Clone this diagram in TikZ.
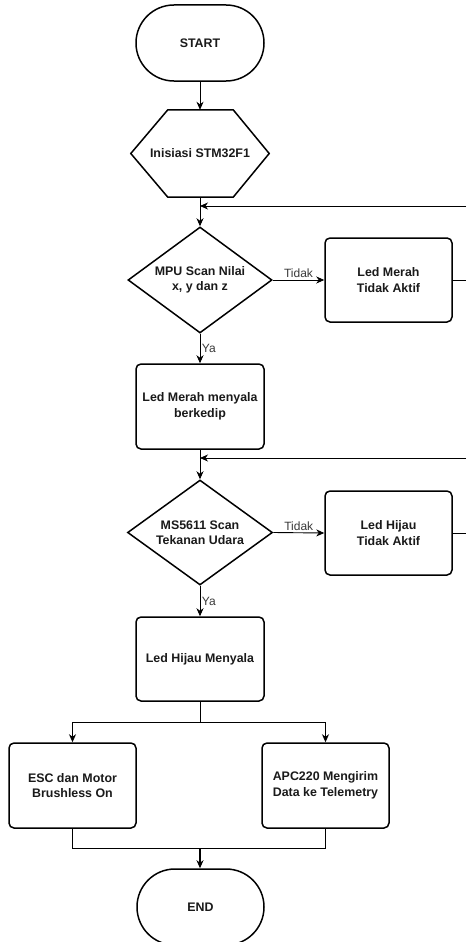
\documentclass[tikz,border=0pt]{standalone}
\usepackage{fontspec}
\setmainfont{Liberation Sans}
\usetikzlibrary{shapes.geometric,arrows.meta,calc}
\definecolor{txt}{HTML}{1A1A1A}
\definecolor{lbltxt}{HTML}{3A3A3A}
\begin{document}
\begin{tikzpicture}[x=1pt,y=-1pt,
  nodefont/.style={font=\fontsize{12.4}{15.5}\selectfont\bfseries, text=txt},
  box/.style={draw, line width=1.5pt, rounded corners=5pt, minimum width=127pt, minimum height=84pt, align=center, nodefont, inner sep=2pt},
  term/.style={draw, line width=1.5pt, rounded corners=37.9pt, minimum width=128pt, minimum height=76pt, nodefont, inner sep=2pt},
  dec/.style={diamond, draw, line width=1.5pt, minimum width=144pt, minimum height=106pt, shape aspect=1.36, inner sep=0pt, align=center, nodefont},
  conn/.style={line width=0.9pt, -{Stealth[length=8pt,width=7pt,inset=2.5pt]}},
  wire/.style={line width=0.9pt},
  lbl/.style={font=\fontsize{12}{14}\selectfont, text=lbltxt}
]
\fill[white] (0,0) rectangle (466,942);
\useasboundingbox (0,0) rectangle (466,942);

% nodes
\node[term] (start) at (200,43) {START};
\node[minimum width=138pt, minimum height=87pt, inner sep=0pt, nodefont] (init) at (200,153.5) {Inisiasi STM32F1};
\draw[line width=1.5pt, line join=miter] (init.west) -- ($(init.north west)+(37,0)$) -- ($(init.north east)+(-36,0)$) -- (init.east) -- ($(init.south east)+(-36,0)$) -- ($(init.south west)+(37,0)$) -- cycle;
\node[dec] (mpu) at (200,280) {MPU Scan Nilai\\x, y dan z};
\node[box] (ltm) at (388.5,280) {Led Merah\\Tidak Aktif};
\node[box, minimum width=128pt, minimum height=85pt] (lmm) at (200,406.5) {Led Merah menyala\\berkedip};
\node[dec, minimum width=145pt, minimum height=105pt] (ms) at (200,532.5) {MS5611 Scan\\Tekanan Udara};
\node[box] (lht) at (388.5,533) {Led Hijau\\Tidak Aktif};
\node[box, minimum width=128pt] (lhm) at (200,659) {Led Hijau Menyala};
\node[box, minimum height=85pt] (esc) at (72.5,785.5) {ESC dan Motor\\Brushless On};
\node[box, minimum height=85pt] (apc) at (325.5,785.5) {APC220 Mengirim\\Data ke Telemetry};
\node[term, minimum width=127pt] (end) at (200.5,907) {END};

% coordinates
\coordinate (fb1) at (466,206);
\coordinate (fb2) at (466,458);
\coordinate (split) at (200,722);
\coordinate (merge) at (200,848);

% connectors
\draw[conn] (start.south) -- (init.north);
\draw[conn] (init.south) -- (mpu.north);
\draw[conn] (fb1) -- (fb1 -| mpu.north);
\draw[wire] (ltm.east) -- (ltm.east -| fb1);
\draw[conn] (mpu.east) -- node[lbl, above, inner sep=2pt] {Tidak} (ltm.west);
\draw[conn] (mpu.south) -- node[lbl, right, inner sep=1.5pt] {Ya} (lmm.north);

\draw[conn] (lmm.south) -- (ms.north);
\draw[conn] (fb2) -- (fb2 -| ms.north);
\draw[wire] (lht.east) -- (lht.east -| fb2);
\draw[conn] (ms.east) -- node[lbl, above, inner sep=2pt] {Tidak} (lht.west);
\draw[conn] (ms.south) -- node[lbl, right, inner sep=1.5pt] {Ya} (lhm.north);

\draw[wire] (lhm.south) -- (split);
\draw[conn] (split) -| (esc.north);
\draw[conn] (split) -| (apc.north);
\draw[wire] (esc.south) |- (merge);
\draw[wire] (apc.south) |- (merge);
\draw[conn, line width=1.4pt] (merge) -- (end.north -| merge);
\end{tikzpicture}
\end{document}
